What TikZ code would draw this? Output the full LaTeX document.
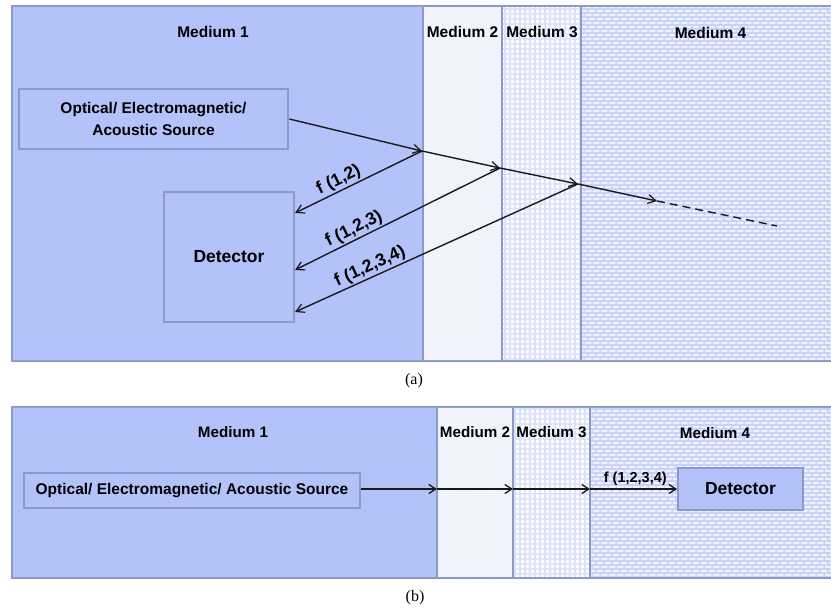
\documentclass[tikz,border=0pt]{standalone}
\usepackage{fontspec}
\setmainfont{Liberation Serif}
\setsansfont{Liberation Sans}
\usetikzlibrary{arrows.meta,patterns,patterns.meta}
\definecolor{mone}{HTML}{B3C3FA}
\definecolor{edgec}{HTML}{8D99C6}
\definecolor{mtwo}{HTML}{F4F6FE}
\definecolor{mtwoline}{HTML}{E6EAFB}
\definecolor{mthreeline}{HTML}{DCE2FB}
\definecolor{mfourbase}{HTML}{EEF1FE}
\definecolor{mfourline}{HTML}{C9D3FA}
\tikzdeclarepattern{
  name=smallbricks,
  type=uncolored,
  bottom left={(-0.5pt,-0.5pt)},
  top right={(8.5pt,8.5pt)},
  tile size={(8pt,8pt)},
  code={
    \draw[line width=1.3pt] (0pt,0pt) -- (8pt,0pt) (0pt,4pt) -- (8pt,4pt)
      (0pt,0pt) -- (0pt,4pt) (4pt,4pt) -- (4pt,8pt);
  }
}
\tikzset{
  x=1pt, y=-1pt,
  medlab/.style={font=\sffamily\bfseries\fontsize{15.5}{19}\selectfont, inner sep=0pt},
  medlabb/.style={font=\sffamily\bfseries\fontsize{15.2}{17}\selectfont, inner sep=0pt},
  flab/.style={font=\sffamily\bfseries\fontsize{17.5}{20}\selectfont, inner sep=1.5pt},
  flabb/.style={font=\sffamily\bfseries\fontsize{14.5}{17}\selectfont, inner sep=1pt},
  mone box/.style={fill=mone},
  mtwo box/.style={fill=mtwo, postaction={pattern={Lines[angle=45,distance=2.5pt,line width=0.3pt]}, pattern color=mtwoline}},
  mthree box/.style={fill=white, postaction={pattern={Lines[angle=0,distance=5pt,line width=1.2pt]}, pattern color=mthreeline}, postaction={pattern={Lines[angle=90,distance=5pt,line width=1.2pt]}, pattern color=mthreeline}},
  mfour box/.style={fill=mfourbase, postaction={pattern=smallbricks, pattern color=mfourline}},
  edge line/.style={draw=edgec, line width=1.6pt},
  srcbox/.style={draw=edgec, line width=2.8pt, fill=mone, align=center, inner sep=0pt},
  detbox/.style={draw=edgec, line width=1.8pt, fill=mone, inner sep=0pt, font=\sffamily\bfseries\fontsize{17.5}{20}\selectfont},
  arr/.style={draw=black!90, line width=1.4pt, -{Straight Barb[length=8pt,width=9pt,line width=1.2pt]}},
  arrb/.style={draw=black!90, line width=1.7pt, -{Straight Barb[length=7pt,width=9pt,line width=1.3pt]}},
  captext/.style={font=\fontsize{16}{19}\selectfont, inner sep=0pt}
}
\begin{document}
\begin{tikzpicture}
\path[use as bounding box] (0,0) rectangle (831,609);
% ---------- panel (a) ----------
\path[mone box] (12,6) rectangle (423,361);
\path[mtwo box] (423,6) rectangle (502,361);
\path[mthree box] (502,6) rectangle (581,361);
\path[mfour box] (581,6) rectangle (831,361);
\draw[edge line] (831,6) -- (12,6) -- (12,361) -- (831,361);
\draw[edge line] (423,6) -- (423,361);
\draw[edge line] (502,6) -- (502,361);
\draw[edge line] (581,6) -- (581,361);
\node[medlab] (ta1) at (213,32) {Medium 1};
\node[medlab] (ta2) at (462.5,32) {Medium 2};
\node[medlab] (ta3) at (542,32) {Medium 3};
\node[medlab] (ta4) at (710.5,33) {Medium 4};
\node[srcbox, minimum width=269pt, minimum height=60pt, font=\sffamily\bfseries\fontsize{15.5}{22}\selectfont] (tsrc) at (153.5,119) {Optical/ Electromagnetic/\\Acoustic Source};
\node[detbox, minimum width=130pt, minimum height=130pt] (tdet) at (229,257) {Detector};
\coordinate (tA) at (422,151);
\coordinate (tB) at (500,168);
\coordinate (tC) at (578,184);
\coordinate (tD) at (657,201);
\coordinate (tE) at (777,226);
\coordinate (r1) at (295,213);
\coordinate (r2) at (295,270);
\coordinate (r3) at (295,312);
\draw[arr] (tsrc.east) -- (tA);
\draw[arr] (tA) -- (tB);
\draw[arr] (tB) -- (tC);
\draw[arr] (tC) -- (tD);
\draw[draw=black!90, line width=1.4pt, dash pattern=on 8pt off 5pt] (tD) -- (tE);
\draw[arr] (tA) -- node[flab, sloped, above, pos=0.62] (fl1) {f (1,2)} (r1);
\draw[arr] (tB) -- node[flab, sloped, above, pos=0.69] (fl2) {f (1,2,3)} (r2);
\draw[arr] (tC) -- node[flab, sloped, above, pos=0.72] (fl3) {f (1,2,3,4)} (r3);
\node[captext] (capa) at (414,381) {(a)};
% ---------- panel (b) ----------
\path[mone box] (12,407) rectangle (437,578);
\path[mtwo box] (437,407) rectangle (513,578);
\path[mthree box] (513,407) rectangle (590,578);
\path[mfour box] (590,407) rectangle (831,578);
\draw[edge line] (831,407) -- (12,407) -- (12,578) -- (831,578);
\draw[edge line] (437,407) -- (437,578);
\draw[edge line] (513,407) -- (513,578);
\draw[edge line] (590,407) -- (590,578);
\node[medlabb] (tb1) at (233,432) {Medium 1};
\node[medlabb] (tb2) at (475,432) {Medium 2};
\node[medlabb] (tb3) at (551.5,432) {Medium 3};
\node[medlabb] (tb4) at (715,433) {Medium 4};
\node[srcbox, minimum width=336pt, minimum height=35pt, font=\sffamily\bfseries\fontsize{15.5}{17}\selectfont] (bsrc) at (192,490.5) {Optical/ Electromagnetic/ Acoustic Source};
\node[detbox, minimum width=125pt, minimum height=42pt] (bdet) at (740.5,489) {Detector};
\coordinate (bA) at (437,489);
\coordinate (bB) at (513,489);
\coordinate (bC) at (590,489);
\draw[arrb] (bsrc.east |- bA) -- (bA);
\draw[arrb] (bA) -- (bB);
\draw[arrb] (bB) -- (bC);
\draw[arrb] (bC) -- node[flabb, above, pos=0.52, yshift=2pt] (fl4) {f (1,2,3,4)} (bdet.west |- bC);
\node[captext] (capb) at (415,598) {(b)};
\end{tikzpicture}
\end{document}
